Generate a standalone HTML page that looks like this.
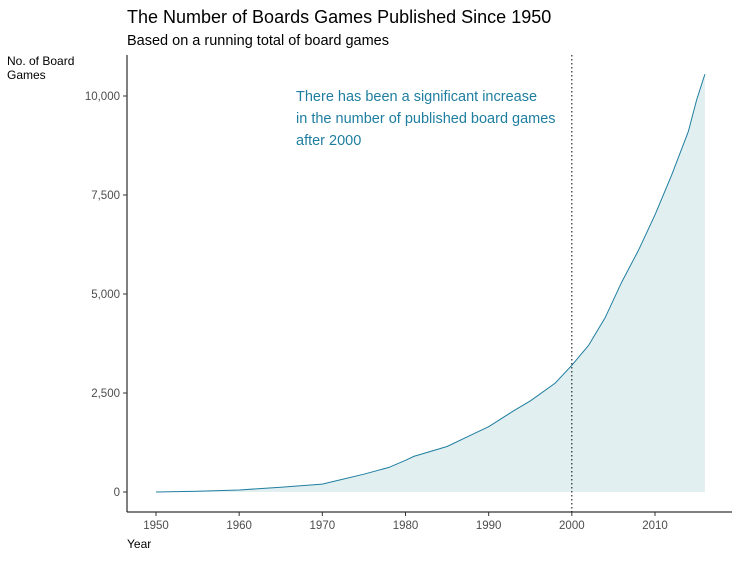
<!DOCTYPE html>
<html><head><meta charset="utf-8"><style>
body{margin:0;background:#fff;font-family:"Liberation Sans",sans-serif;}
svg text{font-family:"Liberation Sans",sans-serif;}
</style></head><body>
<svg id="c" width="740" height="558" xmlns="http://www.w3.org/2000/svg">
<text x="127" y="23" font-size="18" fill="#000">The Number of Boards Games Published Since 1950</text>
<text x="127" y="45" font-size="14.5" fill="#000">Based on a running total of board games</text>
<text x="7" y="65" font-size="12" fill="#000"><tspan x="7">No. of Board</tspan><tspan x="7" dy="14">Games</tspan></text>
<text x="127" y="548" font-size="12" fill="#000">Year</text>
<g id="plot"></g>
<text x="296" y="101" font-size="14.5" fill="#1f7ea0"><tspan x="296">There has been a significant increase</tspan><tspan x="296" dy="22">in the number of published board games</tspan><tspan x="296" dy="22">after 2000</tspan></text>
</svg>
<script>
const years=[1950,1955,1960,1965,1970,1972,1975,1978,1980,1981,1985,1988,1990,1993,1995,1998,2000,2002,2004,2006,2008,2010,2012,2014,2015,2016];
const totals=[0,20,50,120,200,300,450,620,800,900,1150,1450,1650,2050,2300,2750,3200,3700,4400,5300,6100,7000,8000,9100,9900,10550];
const xTicks=[1950,1960,1970,1980,1990,2000,2010];
const yTicks=[0,2500,5000,7500,10000];
const yLabels=["0","2,500","5,000","7,500","10,000"];
const markerYear=2000;
const NS="http://www.w3.org/2000/svg";
const x=v=>156+(v-1950)*(655-156)/60;
const y=v=>492-v*(492-96)/10000;
const g=document.getElementById('plot');
function mk(t,a){const e=document.createElementNS(NS,t);for(const k in a)e.setAttribute(k,a[k]);g.appendChild(e);return e;}
let pts=years.map((yr,i)=>x(yr).toFixed(1)+","+y(totals[i]).toFixed(1));
let area=mk('path',{d:"M"+x(years[0])+","+y(0)+" L"+pts.join(" L")+" L"+x(years[years.length-1])+","+y(0)+"Z",fill:"#e2eff1"});


let line=mk('polyline',{points:pts.join(" "),fill:"none",stroke:"#1f7ea0","stroke-width":1});


let vl=mk('line',{x1:x(markerYear),x2:x(markerYear),y1:55,y2:512,stroke:"#000","stroke-dasharray":"1.5,2.5","stroke-width":1});


let ax=mk('line',{x1:127,x2:127,y1:55,y2:512,stroke:"#000"});


let bx=mk('line',{x1:127,x2:732,y1:512,y2:512,stroke:"#000"});


yTicks.forEach((v,i)=>{
 const tk=mk('line',{x1:123,x2:127,y1:y(v),y2:y(v),stroke:"#333"});
 
 
 const t=mk('text',{x:120,y:y(v)+4,"text-anchor":"end","font-size":11.5,fill:"#4d4d4d"});
 t.textContent=yLabels[i];
 
 
});
xTicks.forEach(v=>{
 const tk=mk('line',{x1:x(v),x2:x(v),y1:512,y2:516,stroke:"#333"});
 
 
 const t=mk('text',{x:x(v),y:529,"text-anchor":"middle","font-size":11.5,fill:"#4d4d4d"});
 t.textContent=v;
 
 
});
</script>
</body></html>
